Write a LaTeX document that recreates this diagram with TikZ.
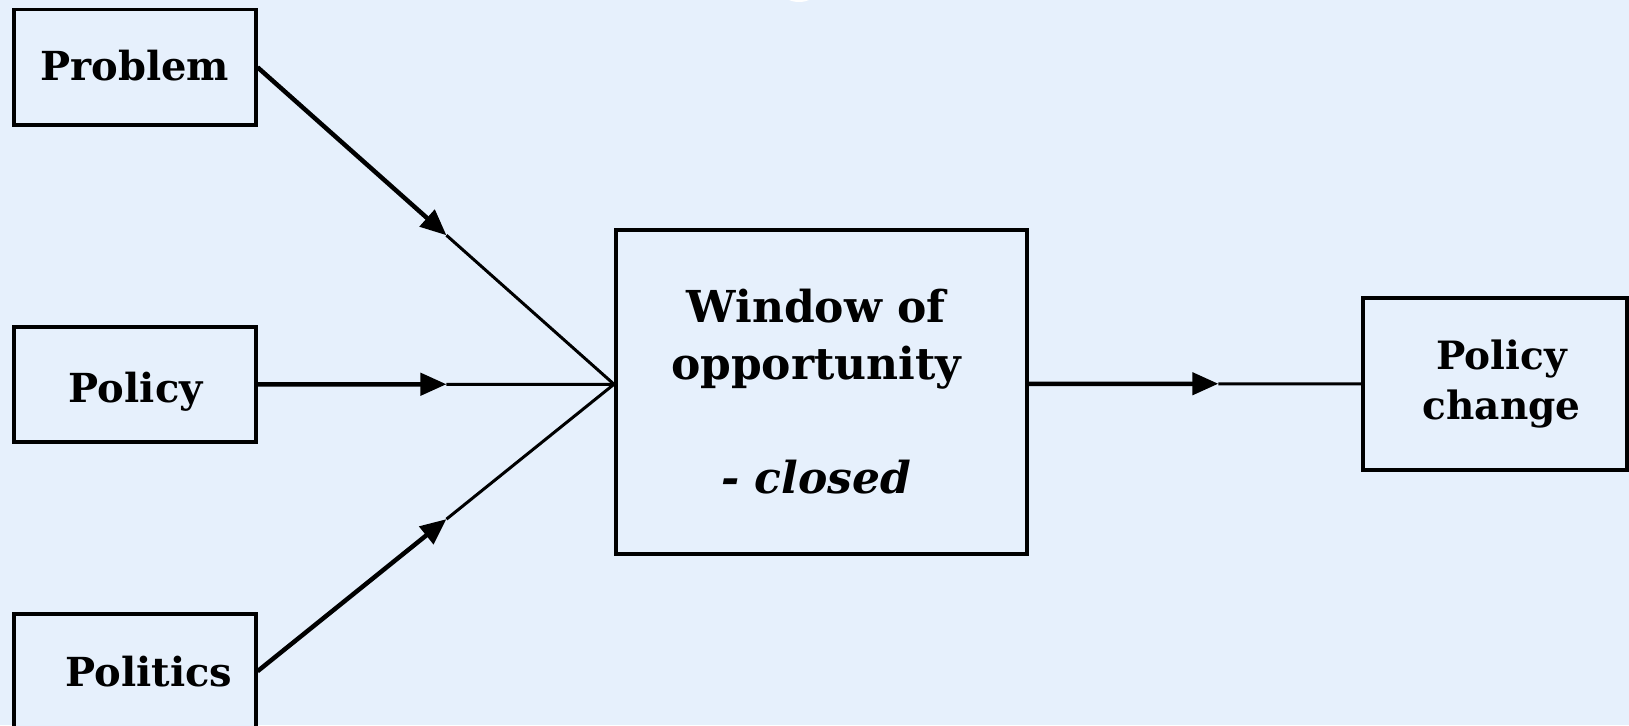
\documentclass[tikz,border=0pt]{standalone}
\usepackage{fontspec}
\setmainfont{DejaVu Serif}
\usetikzlibrary{arrows.meta,positioning,calc}
\definecolor{bgBlue}  {HTML}{E6F0FC}
\definecolor{lineK}   {HTML}{000000}
\tikzset{
  >={Triangle[length=26pt,width=22pt]},
  streamBox/.style={draw=lineK,line width=3.5pt,fill=bgBlue,inner sep=0pt,
    minimum width=242pt,minimum height=115pt,font=\fontsize{40}{50}\selectfont\bfseries},
  windowBox/.style={draw=lineK,line width=3.5pt,fill=bgBlue,inner sep=0pt,align=center,
    minimum width=411pt,minimum height=324pt,font=\fontsize{44}{57}\selectfont\bfseries},
  changeBox/.style={draw=lineK,line width=3.5pt,fill=bgBlue,inner sep=0pt,align=center,
    minimum width=264pt,minimum height=172pt,font=\fontsize{39}{50}\selectfont\bfseries},
  flowIn/.style={->,line width=4.5pt,lineK},
  flowOut/.style={line width=3pt,lineK},
}
\begin{document}
\begin{tikzpicture}[x=1pt,y=-1pt]
\fill[bgBlue] (0,0) rectangle (1629,725);
\useasboundingbox (0,0) rectangle (1629,725);
\begin{scope}
\clip (0,0) rectangle (1629,725);
\fill[white] (799,-6) ellipse (15pt and 8pt);
\end{scope}
% the three streams
\node[streamBox,anchor=north west] (problem) at (12,8) {\raisebox{2pt}[\height][\depth]{Problem}};
\node[streamBox,anchor=north west] (policy) at (12,325) {\hspace*{2pt}\raisebox{-7pt}[\height][\depth]{Policy}};
\node[streamBox,anchor=north west] (politics) at (12,612) {\hspace*{28pt}Politics};
% window and outcome
\node[windowBox,anchor=north west] (window) at (614,228) {%
  \hspace*{-10pt}Window of\\\hspace*{-10pt}opportunity\\[57pt]\hspace*{-10pt}\textit{- closed}};
\node[changeBox,anchor=north west] (change) at (1361,296) {\hspace*{14pt}Policy\\\hspace*{14pt}change};
\coordinate (join) at (window.west |- policy.east);
\coordinate (outJoin) at (window.east |- change.west);
\coordinate (tipA) at ($(problem.east)!0.53!(join)$);
\coordinate (tipB) at ($(policy.east)!0.53!(join)$);
\coordinate (tipC) at ($(politics.east)!0.53!(join)$);
\coordinate (tipD) at ($(outJoin)!0.571!(change.west)$);
\draw[flowIn] (problem.east) -- (tipA);
\draw[flowOut] (tipA) -- (join);
\draw[flowIn] (policy.east) -- (tipB);
\draw[flowOut] (tipB) -- (join);
\draw[flowIn] (politics.east) -- (tipC);
\draw[flowOut] (tipC) -- (join);
\draw[flowIn] (outJoin) -- (tipD);
\draw[flowOut] (tipD) -- (change.west);
\end{tikzpicture}
\end{document}
